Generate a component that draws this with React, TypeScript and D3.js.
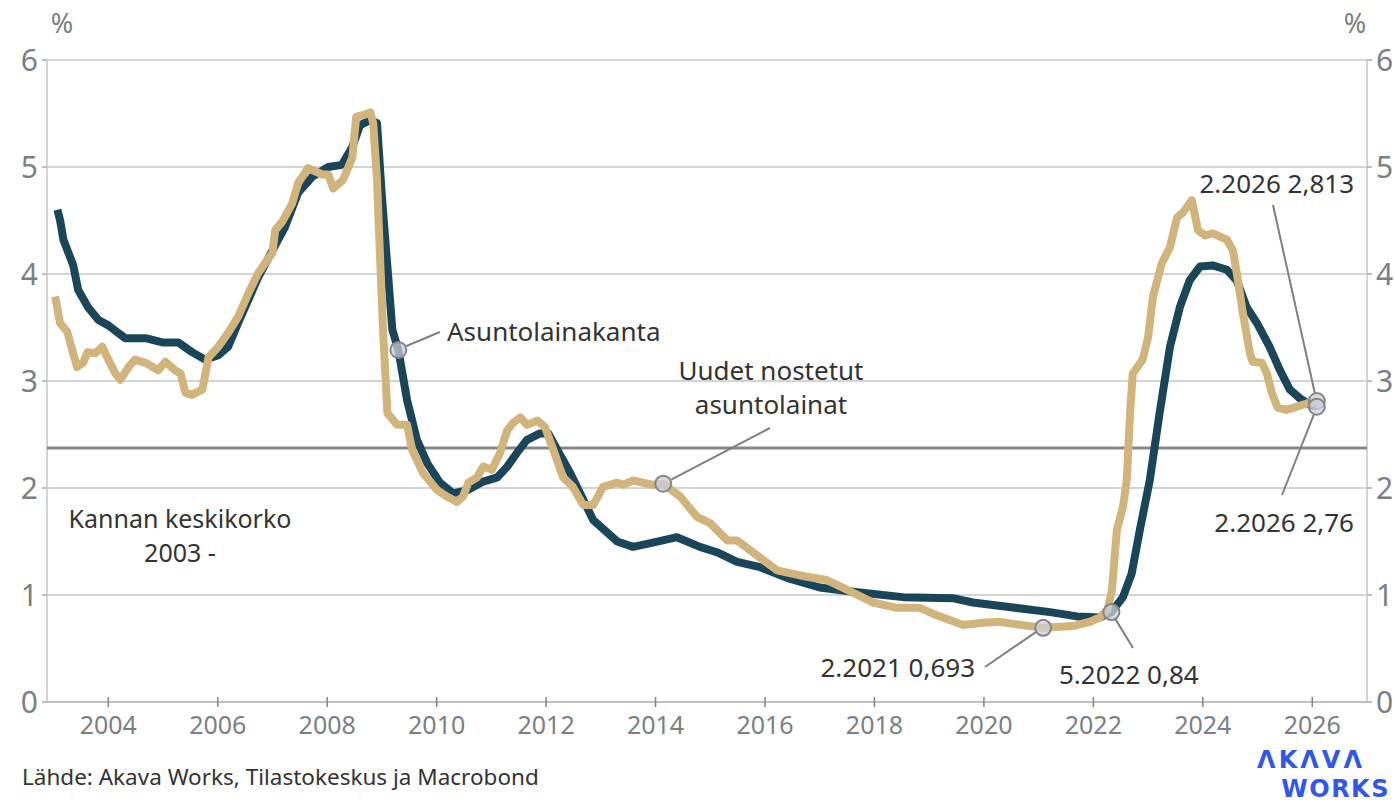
import React from "react";
import * as d3 from "d3";

const width = 1395;
const height = 802;
const margin = { top: 60, right: 28, bottom: 100, left: 47 };
const font = "'Noto Sans', 'Open Sans', sans-serif";

// Asuntolainakanta (stock of housing loans), decimal year + %
const stockYears = [
  2003.07, 2003.12, 2003.18, 2003.27, 2003.36, 2003.45, 2003.63, 2003.82, 2004.0, 2004.31,
  2004.68, 2004.99, 2005.28, 2005.53, 2005.77, 2006.01, 2006.19, 2006.37, 2006.56, 2006.74,
  2007.0, 2007.23, 2007.47, 2007.73, 2008.02, 2008.27, 2008.46, 2008.6, 2008.79, 2008.91,
  2009.0, 2009.1, 2009.19, 2009.3, 2009.46, 2009.64, 2009.83, 2010.06, 2010.3, 2010.56,
  2010.85, 2011.11, 2011.29, 2011.47, 2011.65, 2011.89, 2012.04, 2012.2, 2012.44, 2012.68,
  2012.86, 2013.08, 2013.3, 2013.59, 2013.95, 2014.39, 2014.81, 2015.12, 2015.49, 2015.91,
  2016.4, 2017.0, 2017.61, 2018.52, 2019.43, 2019.8, 2020.42, 2021.21, 2021.7, 2022.12,
  2022.33, 2022.54, 2022.7, 2022.85, 2023.03, 2023.21, 2023.4, 2023.58, 2023.76, 2023.95,
  2024.18, 2024.44, 2024.62, 2024.8, 2024.99, 2025.22, 2025.41, 2025.59, 2025.77, 2025.95,
  2026.083,
];
const stockValues = [
  4.6, 4.5, 4.32, 4.2, 4.08, 3.85, 3.69, 3.57, 3.52, 3.4,
  3.4, 3.36, 3.36, 3.27, 3.2, 3.24, 3.32, 3.54, 3.76, 3.97,
  4.22, 4.44, 4.76, 4.91, 5.0, 5.02, 5.19, 5.39, 5.44, 5.41,
  4.72, 4.07, 3.48, 3.29, 2.82, 2.45, 2.23, 2.05, 1.95, 1.98,
  2.06, 2.1, 2.2, 2.33, 2.45, 2.51, 2.51, 2.36, 2.14, 1.89,
  1.7, 1.6, 1.5, 1.45, 1.49, 1.54, 1.45, 1.4, 1.31, 1.26,
  1.16, 1.07, 1.03, 0.98, 0.97, 0.93, 0.89, 0.84, 0.8, 0.79,
  0.84, 0.98, 1.2, 1.61, 2.07, 2.7, 3.32, 3.69, 3.94, 4.07,
  4.08, 4.04, 3.94, 3.69, 3.54, 3.32, 3.1, 2.92, 2.84, 2.78,
  2.76,
];

// Uudet nostetut asuntolainat (new housing loans)
const newYears = [
  2003.03, 2003.12, 2003.25, 2003.34, 2003.43, 2003.54, 2003.62, 2003.76, 2003.89, 2004.0,
  2004.13, 2004.22, 2004.37, 2004.49, 2004.68, 2004.91, 2005.04, 2005.22, 2005.32, 2005.41,
  2005.53, 2005.72, 2005.83, 2006.01, 2006.19, 2006.37, 2006.56, 2006.74, 2007.0, 2007.05,
  2007.18, 2007.36, 2007.47, 2007.65, 2007.91, 2008.02, 2008.11, 2008.29, 2008.46, 2008.53,
  2008.69, 2008.79, 2008.84, 2008.91, 2008.97, 2009.02, 2009.1, 2009.28, 2009.46, 2009.55,
  2009.75, 2010.01, 2010.19, 2010.37, 2010.48, 2010.58, 2010.74, 2010.85, 2011.01, 2011.16,
  2011.29, 2011.4, 2011.53, 2011.65, 2011.84, 2011.98, 2012.13, 2012.31, 2012.49, 2012.68,
  2012.86, 2013.04, 2013.3, 2013.41, 2013.59, 2013.95, 2014.14, 2014.45, 2014.76, 2015.0,
  2015.31, 2015.49, 2015.96, 2016.22, 2016.77, 2017.13, 2017.42, 2017.97, 2018.41, 2018.83,
  2019.14, 2019.62, 2019.98, 2020.29, 2020.53, 2021.083, 2021.63, 2021.94, 2022.12, 2022.26,
  2022.34, 2022.43, 2022.54, 2022.61, 2022.67, 2022.72, 2022.9, 2023.0, 2023.09, 2023.25,
  2023.4, 2023.53, 2023.63, 2023.8, 2023.91, 2024.04, 2024.18, 2024.44, 2024.55, 2024.62,
  2024.73, 2024.86, 2024.91, 2025.08, 2025.17, 2025.26, 2025.37, 2025.53, 2025.72, 2025.9,
  2026.083,
];
const newValues = [
  3.79, 3.54, 3.46, 3.29, 3.13, 3.17, 3.27, 3.26, 3.32, 3.2,
  3.07, 3.01, 3.13, 3.2, 3.17, 3.1, 3.18, 3.1, 3.07, 2.89,
  2.87, 2.92, 3.22, 3.32, 3.45, 3.6, 3.82, 4.01, 4.2, 4.41,
  4.49, 4.66, 4.85, 4.99, 4.93, 4.93, 4.8, 4.88, 5.09, 5.47,
  5.49, 5.51, 5.41, 4.88, 4.1, 3.48, 2.7, 2.59, 2.59, 2.36,
  2.14, 1.98, 1.92, 1.87, 1.92, 2.05, 2.1, 2.2, 2.17, 2.33,
  2.54, 2.61, 2.66, 2.59, 2.63, 2.57, 2.36, 2.1, 2.01, 1.84,
  1.84, 2.01, 2.05, 2.03, 2.07, 2.03, 2.04, 1.92, 1.73, 1.67,
  1.51, 1.51, 1.33, 1.23, 1.17, 1.14, 1.07, 0.93, 0.88, 0.88,
  0.81, 0.72, 0.74, 0.75, 0.73, 0.693, 0.71, 0.75, 0.79, 0.86,
  1.05, 1.61, 1.82, 2.07, 2.7, 3.07, 3.2, 3.41, 3.79, 4.1,
  4.25, 4.53, 4.57, 4.69, 4.41, 4.36, 4.38, 4.32, 4.22, 4.01,
  3.64, 3.26, 3.18, 3.17, 3.07, 2.89, 2.75, 2.73, 2.76, 2.79,
  2.813,
];

const averageRate = 2.374; // Kannan keskikorko 2003 -
const yearTicks = [2004, 2006, 2008, 2010, 2012, 2014, 2016, 2018, 2020, 2022, 2024, 2026];
const valueTicks = [0, 1, 2, 3, 4, 5, 6];

// highlighted points
const points = [
  { year: 2009.3, value: 3.29, series: "stock" },
  { year: 2014.14, value: 2.04, series: "new" },
  { year: 2021.083, value: 0.693, series: "new" },
  { year: 2022.33, value: 0.84, series: "stock" },
  { year: 2026.083, value: 2.813, series: "new" },
  { year: 2026.083, value: 2.76, series: "stock" },
];

const blue = "#1b4558";
const gold = "#d1b47b";
const tickGrey = "#7a7f84";
const textDark = "#333";

export default function App() {
  const x = d3.scaleLinear().domain([2002.88, 2027.0]).range([margin.left, width - margin.right]);
  const y = d3.scaleLinear().domain([0, 6]).range([height - margin.bottom, margin.top]);

  const line = d3
    .line<[number, number]>()
    .x(d => x(d[0]))
    .y(d => y(d[1]));

  const stock = stockYears.map((yr, i) => [yr, stockValues[i]] as [number, number]);
  const fresh = newYears.map((yr, i) => [yr, newValues[i]] as [number, number]);

  const x0 = x.range()[0];
  const x1 = x.range()[1];
  const yBase = y(0);

  const pt = (i: number) => [x(points[i].year), y(points[i].value)];
  const [p0x, p0y] = pt(0);
  const [p1x, p1y] = pt(1);
  const [p2x, p2y] = pt(2);
  const [p3x, p3y] = pt(3);
  const [p4x, p4y] = pt(4);
  const [p5x, p5y] = pt(5);

  return (
    <svg
      width={width}
      height={height}
      style={{ position: "fixed", left: 0, top: 0, background: "#fff" }}
      fontFamily={font}
    >
      {/* grid */}
      {valueTicks.slice(1).map(v => (
        <line key={v} x1={x0} x2={x1} y1={y(v)} y2={y(v)} stroke="#c6c6c6" strokeWidth={1.5} />
      ))}
      <line x1={x0} x2={x0} y1={y(6)} y2={yBase} stroke="#d4d4d4" strokeWidth={2} />
      <line x1={x1} x2={x1} y1={y(6)} y2={yBase} stroke="#d4d4d4" strokeWidth={2} />
      <line x1={x0} x2={x1} y1={yBase} y2={yBase} stroke="#a9acae" strokeWidth={1.5} />

      {/* y axes */}
      {valueTicks.map(v => (
        <g key={v}>
          <line x1={x0 - 5} x2={x0} y1={y(v)} y2={y(v)} stroke="#a9acae" strokeWidth={1.5} />
          <line x1={x1} x2={x1 + 5} y1={y(v)} y2={y(v)} stroke="#a9acae" strokeWidth={1.5} />
          <text x={x0 - 9} y={y(v) + 11} textAnchor="end" fontSize={30} fill={tickGrey}>{v}</text>
          <text x={x1 + 9} y={y(v) + 11} textAnchor="start" fontSize={30} fill={tickGrey}>{v}</text>
        </g>
      ))}
      <text x={62} y={33} textAnchor="middle" fontSize={27} fill={tickGrey}>%</text>
      <text x={1355} y={33} textAnchor="middle" fontSize={27} fill={tickGrey}>%</text>

      {/* x axis */}
      {yearTicks.map(t => (
        <g key={t}>
          <line x1={x(t)} x2={x(t)} y1={yBase - 5} y2={yBase + 5} stroke="#7f8386" strokeWidth={1.5} />
          <text x={x(t)} y={yBase + 32} textAnchor="middle" fontSize={25} fill={tickGrey}>{t}</text>
        </g>
      ))}

      {/* average line */}
      <line x1={x0} x2={x1} y1={y(averageRate)} y2={y(averageRate)} stroke="#878787" strokeWidth={3} />
      <text x={180} y={528} textAnchor="middle" fontSize={25} fill={textDark}>Kannan keskikorko</text>
      <text x={180} y={562} textAnchor="middle" fontSize={25} fill={textDark}>2003 -</text>

      {/* series */}
      <path d={line(stock) || ""} fill="none" stroke={blue} strokeWidth={8} strokeLinejoin="round" />
      <path d={line(fresh) || ""} fill="none" stroke={gold} strokeWidth={8} strokeLinejoin="round" />

      {/* leaders */}
      <g stroke="#808080" strokeWidth={2}>
        <line x1={p0x + 8} x2={440} y1={p0y - 4} y2={332} />
        <line x1={p1x + 8} x2={770} y1={p1y - 4} y2={428} />
        <line x1={p2x - 7} x2={985} y1={p2y + 4} y2={667} />
        <line x1={p3x + 4} x2={1133} y1={p3y + 7} y2={648} />
        <line x1={p4x - 2} x2={1273} y1={p4y - 8} y2={205} />
        <line x1={p5x - 3} x2={1282} y1={p5y + 8} y2={495} />
      </g>
      {points.map((p, i) => (
        <circle
          key={i}
          cx={x(p.year)}
          cy={y(p.value)}
          r={8}
          fill="#c9ced8"
          fillOpacity={0.75}
          stroke="#858585"
          strokeWidth={2}
        />
      ))}

      {/* annotations */}
      <g fontSize={26} fill={textDark}>
        <text x={447} y={341}>Asuntolainakanta</text>
        <text x={771} y={380} textAnchor="middle">Uudet nostetut</text>
        <text x={771} y={414} textAnchor="middle">asuntolainat</text>
        <text x={975} y={677} textAnchor="end">2.2021 0,693</text>
        <text x={1059} y={684}>5.2022 0,84</text>
        <text x={1354} y={193} textAnchor="end">2.2026 2,813</text>
        <text x={1354} y={532} textAnchor="end">2.2026 2,76</text>
      </g>

      {/* footer */}
      <text x={22} y={785} fontSize={22.5} fill={textDark}>Lähde: Akava Works, Tilastokeskus ja Macrobond</text>
      <g fill="#3257e6" fontWeight="bold" fontFamily="'DejaVu Sans', sans-serif">
        <text x={1365} y={768} fontSize={24} textAnchor="end" letterSpacing={3}>ΛKΛVΛ</text>
        <text x={1390} y={797} fontSize={24} textAnchor="end" letterSpacing={1.5}>WORKS</text>
      </g>
    </svg>
  );
}
